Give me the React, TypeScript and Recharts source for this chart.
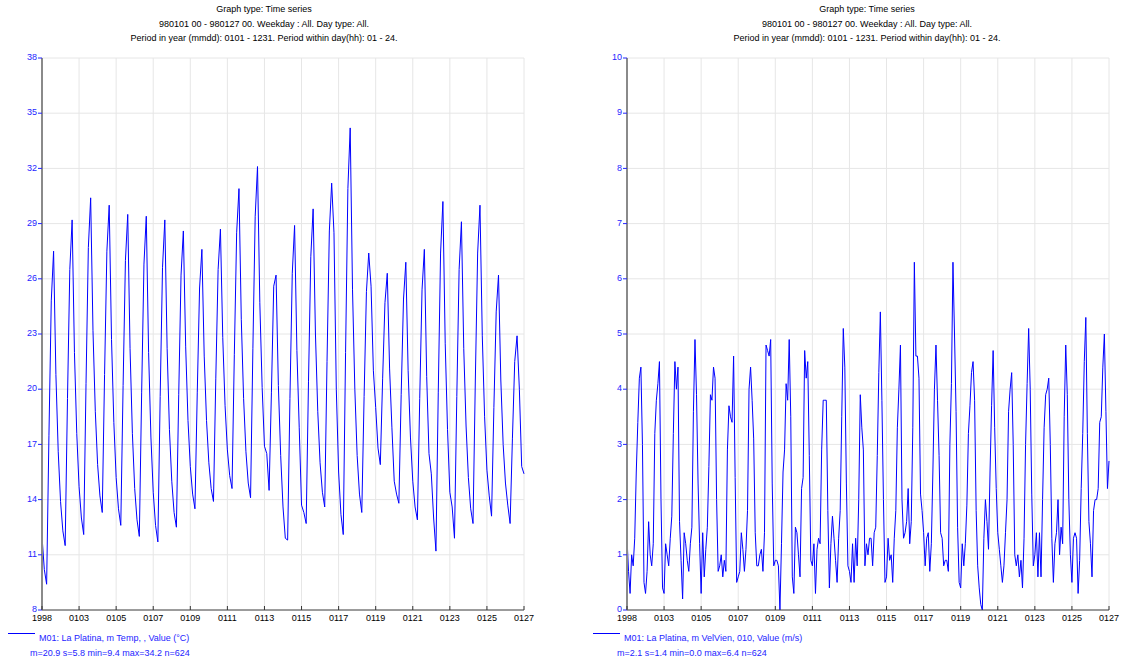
import { LineChart, Line, XAxis, YAxis, CartesianGrid } from "recharts";

// tick positions in hours since 1998-01-01 00h, labelled every second day
const DAY_TICKS = [0, 48, 96, 144, 192, 240, 288, 336, 384, 432, 480, 528, 576, 624];
const DAY_LABELS = ["1998", "0103", "0105", "0107", "0109", "0111", "0113", "0115", "0117", "0119", "0121", "0123", "0125", "0127"];

const TEMP_TICKS = [8, 11, 14, 17, 20, 23, 26, 29, 32, 35, 38];
const WIND_TICKS = [0, 1, 2, 3, 4, 5, 6, 7, 8, 9, 10];

// air temperature (°C), one reading every 3 hours
const TEMP_STEP_H = 3;
const TEMP_C = [
  12.0, 10.2, 9.4, 17.5, 24.8, 27.5, 20.8, 16.6,
  13.9, 12.3, 11.5, 19.5, 26.5, 29.2, 22.0, 17.6,
  14.7, 13.0, 12.1, 20.3, 27.7, 30.4, 23.2, 18.8,
  15.9, 14.2, 13.3, 20.8, 27.5, 30.0, 22.7, 18.2,
  15.2, 13.5, 12.6, 20.2, 27.0, 29.5, 22.2, 17.6,
  14.6, 12.9, 12.0, 19.8, 26.8, 29.4, 22.0, 17.4,
  14.4, 12.6, 11.7, 19.6, 26.6, 29.2, 22.2, 17.8,
  15.0, 13.3, 12.5, 19.7, 26.2, 28.6, 22.3, 18.3,
  15.8, 14.3, 13.5, 19.8, 25.5, 27.6, 21.8, 18.3,
  16.0, 14.6, 13.9, 20.6, 26.5, 28.7, 22.8, 19.1,
  16.7, 15.3, 14.6, 21.9, 28.5, 30.9, 23.8, 19.5,
  16.6, 14.9, 14.1, 22.2, 29.4, 32.1, 24.7, 20.1,
  16.9, 16.5, 14.5, 19.8, 25.6, 26.2, 20.2, 16.4,
  13.6, 11.9, 11.8, 19.5, 26.3, 28.9, 22.1, 17.9,
  13.7, 13.3, 12.7, 20.4, 27.2, 29.8, 23.0, 18.8,
  16.0, 14.4, 13.6, 21.5, 28.6, 31.2, 28.5, 20.0,
  15.5, 13.2, 12.1, 22.0, 30.9, 34.2, 25.4, 20.0,
  16.4, 14.3, 13.3, 19.6, 25.3, 27.4, 25.6, 21.0,
  19.0, 16.8, 15.9, 20.6, 24.7, 26.3, 21.1, 17.9,
  15.0, 14.3, 13.8, 19.7, 24.9, 26.9, 21.0, 17.4,
  15.0, 13.6, 12.9, 19.5, 25.4, 27.6, 20.7, 16.5,
  15.4, 13.0, 11.2, 19.8, 27.4, 30.2, 22.5, 17.8,
  14.4, 13.6, 11.9, 19.6, 26.5, 29.1, 22.2, 18.0,
  15.2, 13.5, 12.7, 20.5, 27.4, 30.0, 22.9, 18.5,
  15.6, 14.2, 13.1, 19.0, 24.2, 26.2, 20.5, 17.0,
  14.9, 13.7, 12.7, 17.3, 21.5, 22.9, 20.0, 15.8,
  15.4,
];

// wind speed at 10 m (m/s), one reading every 2 hours
const WIND_STEP_H = 2;
const WIND_MS = [
  1.3, 0.7, 0.3, 1.0, 0.8, 1.3, 2.5, 3.4, 4.2, 4.4, 3.0, 0.5,
  0.3, 0.7, 1.6, 1.0, 0.8, 1.2, 3.2, 3.8, 4.1, 4.5, 2.0, 0.4,
  0.3, 1.2, 1.0, 0.8, 1.3, 1.7, 3.2, 4.5, 4.0, 4.4, 1.6, 0.9,
  0.2, 1.4, 1.2, 0.9, 0.7, 1.2, 1.5, 3.6, 4.9, 3.9, 2.3, 1.2,
  0.3, 1.4, 0.6, 1.1, 1.5, 2.6, 3.9, 3.8, 4.4, 4.2, 2.0, 0.7,
  0.8, 1.0, 0.6, 0.9, 0.7, 2.9, 3.7, 3.5, 3.4, 4.6, 2.4, 0.5,
  0.6, 0.7, 1.4, 1.1, 0.7, 1.1, 1.8, 4.0, 4.4, 3.8, 3.1, 1.4,
  0.8, 0.8, 1.0, 1.1, 0.7, 1.4, 4.8, 4.7, 4.6, 4.9, 2.3, 0.8,
  0.9, 0.9, 0.8, 0.0, 1.2, 2.5, 2.9, 4.1, 3.8, 4.9, 3.5, 0.6,
  0.3, 1.5, 1.4, 1.0, 0.6, 2.2, 2.4, 4.7, 4.2, 4.5, 2.8, 0.9,
  0.8, 1.2, 0.3, 1.1, 1.3, 1.2, 2.9, 3.8, 3.8, 3.8, 1.8, 0.4,
  1.2, 1.7, 1.3, 0.9, 0.5, 1.3, 1.8, 3.5, 5.1, 4.4, 2.3, 0.8,
  0.7, 0.5, 1.2, 0.5, 1.3, 0.8, 2.0, 3.9, 3.3, 2.9, 0.8, 1.2,
  1.0, 1.3, 1.3, 0.8, 1.4, 1.5, 2.8, 4.3, 5.4, 3.8, 2.0, 0.5,
  0.6, 1.3, 0.9, 1.0, 0.5, 1.3, 1.8, 3.3, 4.0, 4.8, 2.0, 1.3,
  1.4, 1.6, 2.2, 1.2, 1.6, 3.3, 6.3, 4.6, 4.6, 4.2, 2.1, 1.8,
  1.4, 0.8, 1.3, 1.4, 0.7, 1.2, 2.5, 4.0, 4.8, 3.8, 2.8, 1.4,
  1.3, 0.8, 0.9, 0.9, 0.7, 3.0, 4.1, 6.3, 5.0, 3.6, 1.5, 0.5,
  0.4, 1.2, 0.8, 1.2, 1.9, 3.2, 3.7, 4.3, 4.5, 3.8, 1.8, 0.8,
  0.4, 0.1, 0.0, 1.3, 2.0, 1.6, 1.1, 2.5, 3.7, 4.7, 3.3, 2.2,
  1.4, 1.1, 0.8, 0.5, 0.8, 1.4, 2.0, 3.6, 4.0, 4.3, 3.0, 1.0,
  0.8, 1.0, 0.6, 0.9, 0.4, 1.3, 3.0, 4.1, 5.1, 4.0, 2.1, 0.8,
  1.0, 1.4, 0.6, 1.4, 0.6, 2.0, 3.3, 3.9, 4.0, 4.2, 3.0, 1.3,
  0.5, 1.2, 1.4, 2.0, 1.0, 1.5, 1.2, 3.5, 4.8, 3.9, 2.0, 1.0,
  0.5, 1.3, 1.4, 1.3, 0.3, 0.9, 2.2, 3.2, 4.5, 5.3, 3.2, 1.6,
  1.2, 0.6, 1.8, 2.0, 2.0, 2.2, 3.4, 3.5, 4.4, 5.0, 3.6, 2.2,
  2.7,
];

const TITLE_LINES = [
  "Graph type: Time series",
  "980101 00 - 980127 00. Weekday : All. Day type: All.",
  "Period in year (mmdd): 0101 - 1231. Period within day(hh): 01 - 24.",
];

const BLUE = "#0000ff";
const LABEL_BLUE = "#2424ff";
const GRID = "#e6e6e6";
const FONT = "'Liberation Sans', Arial, Helvetica, sans-serif";

function DayTick(props: any) {
  const { x, y, payload } = props;
  const i = DAY_TICKS.indexOf(payload.value);
  return (
    <g>
      <line x1={x} x2={x} y1={y - 4} y2={y} stroke="#333" strokeWidth={1} />
      <text x={x} y={y + 11} textAnchor="middle" fontSize={9} fill="#000" fontFamily={FONT}>
        {DAY_LABELS[i]}
      </text>
    </g>
  );
}

type PanelProps = {
  left: number;
  titleCenter: number;
  values: number[];
  stepH: number;
  domain: [number, number];
  ticks: number[];
  series: string;
  stats: string;
  legendLine: [number, number];
  seriesX: number;
  statsX: number;
};

function Panel(p: PanelProps) {
  const data = p.values.map((v, i) => ({ h: i * p.stepH, v }));
  return (
    <>
      {TITLE_LINES.map((t, i) => (
        <div
          key={t}
          style={{
            position: "absolute",
            left: p.titleCenter - 200,
            width: 400,
            top: 3 + i * 14.5,
            textAlign: "center",
            fontSize: 9,
            lineHeight: "12px",
            color: "#000",
            whiteSpace: "nowrap",
          }}
        >
          {t}
        </div>
      ))}
      <div style={{ position: "absolute", left: p.left, top: 0 }}>
        <LineChart width={540} height={640} data={data} margin={{ top: 58, right: 16, bottom: 0, left: 0 }}>
          <CartesianGrid stroke={GRID} strokeWidth={1} />
          <XAxis
            dataKey="h"
            type="number"
            domain={[0, 624]}
            ticks={DAY_TICKS}
            interval={0}
            height={30}
            tickSize={0}
            tickMargin={0}
            tickLine={false}
            axisLine={{ stroke: "#444", strokeWidth: 1 }}
            tick={<DayTick />}
          />
          <YAxis
            type="number"
            domain={p.domain}
            ticks={p.ticks}
            interval={0}
            width={42}
            tickSize={4}
            tickMargin={1}
            axisLine={{ stroke: "#8a8a8a", strokeWidth: 2 }}
            tickLine={{ stroke: LABEL_BLUE }}
            tick={{ fill: LABEL_BLUE, fontSize: 9, fontFamily: FONT, dy: -1 }}
          />
          <Line
            dataKey="v"
            type="linear"
            stroke={BLUE}
            strokeWidth={1}
            dot={false}
            activeDot={false}
            isAnimationActive={false}
          />
        </LineChart>
      </div>
      <svg style={{ position: "absolute", left: 0, top: 0 }} width={1123} height={661}>
        <line x1={p.legendLine[0]} x2={p.legendLine[1]} y1={633.5} y2={633.5} stroke={BLUE} strokeWidth={1} />
      </svg>
      <div style={{ position: "absolute", left: p.seriesX, top: 632, fontSize: 9, lineHeight: "12px", color: LABEL_BLUE, whiteSpace: "nowrap" }}>
        {p.series}
      </div>
      <div style={{ position: "absolute", left: p.statsX, top: 647, fontSize: 9, lineHeight: "12px", color: LABEL_BLUE, whiteSpace: "nowrap" }}>
        {p.stats}
      </div>
    </>
  );
}

export default function App() {
  return (
    <div style={{ position: "relative", width: 1123, height: 661, background: "#fff", fontFamily: FONT, overflow: "hidden" }}>
      <style>{"body{margin:0}"}</style>
      <Panel
        left={0}
        titleCenter={264}
        values={TEMP_C}
        stepH={TEMP_STEP_H}
        domain={[8, 38]}
        ticks={TEMP_TICKS}
        series="M01: La Platina, m Temp, , Value (°C)"
        stats="m=20.9 s=5.8 min=9.4 max=34.2 n=624"
        legendLine={[8, 35]}
        seriesX={39}
        statsX={30}
      />
      <Panel
        left={585}
        titleCenter={867}
        values={WIND_MS}
        stepH={WIND_STEP_H}
        domain={[0, 10]}
        ticks={WIND_TICKS}
        series="M01: La Platina, m VelVien, 010, Value (m/s)"
        stats="m=2.1 s=1.4 min=0.0 max=6.4 n=624"
        legendLine={[593, 620]}
        seriesX={624}
        statsX={617}
      />
    </div>
  );
}
